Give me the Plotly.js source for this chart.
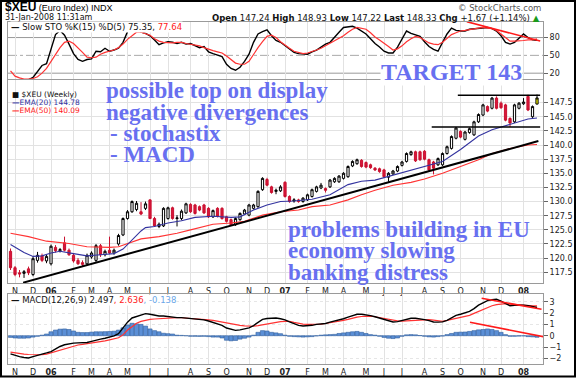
<!DOCTYPE html>
<html><head><meta charset="utf-8">
<script src="https://cdn.plot.ly/plotly-3.0.1.min.js"></script>
<style>html,body{margin:0;padding:0;background:#fff}#chart{width:576px;height:378px}</style>
</head><body><div id="chart"></div>
<script>
// ---------------- DATA (weekly bars, first bar = week of 2005-10-31) ----------------
const firstWeek = '2005-10-31';
const opens  = [121.2,118.3,117.4,117.3,118.1,117.1,119.6,120.4,119.5,119.0,
  121.9,121.3,122.7,121.4,120.5,119.6,119.2,119.0,120.2,119.6,
  122.2,120.6,121.4,120.9,122.5,124.1,127.0,128.2,128.6,128.2,
  128.8,130.3,127.0,125.6,125.7,127.0,128.9,127.0,127.0,128.0,
  129.5,129.4,129.1,129.4,128.8,127.3,128.8,128.8,127.3,126.8,
  125.9,126.8,127.8,127.6,128.8,129.1,132.1,133.9,132.6,131.8,
  131.9,133.4,130.9,130.1,130.3,130.0,130.3,130.9,131.8,132.4,
  132.3,132.6,133.5,133.5,134.1,134.4,136.3,136.7,137.3,136.9,
  136.5,135.9,135.8,135.6,134.3,134.9,135.4,136.4,137.1,138.3,
  138.8,138.8,138.9,137.4,137.0,136.5,136.5,138.5,139.4,141.2,
  142.4,141.0,142.2,141.8,144.1,145.3,146.8,146.5,148.3,147.4,
  147.1,144.7,144.1,146.5,147.3,148.6,145.0,147.24];
const highs  = [121.7,118.6,117.9,117.9,118.5,120.3,121.1,120.8,120.6,122.4,
  122.3,121.8,123.8,121.7,120.8,120.0,119.6,120.8,121.2,122.5,
  122.5,121.5,123.8,121.7,124.3,127.2,128.5,130.2,130.1,129.9,
  130.0,130.4,127.3,126.3,129.0,129.1,129.1,127.6,128.6,129.8,
  129.7,129.6,129.3,129.6,129.0,128.6,129.0,129.0,127.5,127.0,
  127.2,128.1,128.7,129.6,129.6,132.0,134.3,134.2,132.8,132.3,
  132.9,133.6,131.1,130.6,130.5,130.8,131.4,132.3,132.8,133.3,
  132.5,134.0,134.3,134.7,135.2,136.4,137.3,137.6,137.5,137.1,
  136.7,136.1,136.0,135.8,135.2,135.6,136.4,137.2,138.7,139.0,
  139.0,139.0,139.1,137.6,137.2,137.8,138.7,139.9,141.7,143.2,
  142.6,142.5,143.1,144.3,145.6,147.3,147.0,148.5,148.6,147.7,
  147.3,144.9,147.3,147.6,148.3,148.9,147.0,148.93];
const lows   = [117.9,116.8,116.6,116.5,117.0,116.8,119.2,119.3,119.1,118.7,
  121.0,121.0,121.2,120.4,119.2,118.8,118.6,118.8,119.9,119.3,
  120.2,120.3,120.7,120.6,122.2,123.9,126.8,128.0,128.3,127.6,
  128.5,126.9,125.5,125.3,125.5,126.8,126.8,125.6,126.7,127.8,
  128.0,127.7,128.3,127.8,127.1,127.1,127.2,126.8,126.3,125.7,
  125.7,126.6,127.6,127.4,128.6,128.9,131.9,132.7,131.4,131.3,
  131.7,130.7,129.8,129.8,129.8,129.8,130.1,130.7,131.6,132.2,
  131.6,132.4,133.3,133.3,133.9,134.2,136.1,136.5,136.0,135.9,
  135.8,135.4,135.1,134.2,133.5,134.7,135.2,136.2,136.9,138.1,
  137.0,137.2,137.3,135.4,134.8,136.3,136.3,138.3,139.2,141.0,
  141.2,140.8,142.0,141.6,143.9,145.1,145.8,146.3,146.3,146.4,
  144.2,143.2,143.9,146.3,147.1,146.0,144.8,147.22];
const closes = [118.3,117.1,117.2,117.6,117.4,119.9,120.5,119.6,120.3,122.1,
  121.3,121.5,121.4,120.6,119.5,119.0,118.9,120.5,120.9,122.2,
  120.6,121.2,120.9,121.4,124.0,127.0,128.2,130.0,129.7,127.8,
  129.6,127.0,125.7,126.0,128.8,128.9,127.0,127.1,128.3,129.6,
  128.2,127.9,128.5,128.0,127.3,128.4,127.4,127.0,126.5,125.9,
  127.0,127.9,128.5,129.4,129.4,131.8,134.1,132.9,131.6,132.0,
  132.6,130.9,130.0,130.3,130.0,130.6,131.2,132.1,132.6,132.9,
  132.0,133.8,134.1,134.5,135.0,136.2,137.1,137.4,136.2,136.1,
  136.0,135.6,135.3,134.4,135.0,135.4,136.2,137.0,138.5,138.8,
  137.2,137.4,137.5,135.6,135.9,137.6,138.5,139.7,141.5,143.0,
  141.4,142.3,142.9,144.1,145.4,147.1,146.0,148.3,146.5,146.6,
  144.4,143.9,147.1,147.4,147.6,146.2,146.8,148.33];

// moving averages, read at sample weeks
const ema20Weeks = [0,3,5,7,9,11,14,17,20,23,25,27,29,30,32,35,38,41,45,49,51,54,57,60,63,67,71,75,78,81,85,89,92,96,100,104,107,111,115,117];
const ema20 = [122.4,121.0,120.3,120.4,120.9,121.2,120.8,120.4,120.6,120.8,121.6,123.2,124.8,125.4,125.6,126.2,126.6,127.2,127.4,127.2,127.3,128.5,129.4,130.0,130.1,130.4,131.2,133.0,133.6,133.8,134.7,135.6,136.2,137.1,139.2,141.6,142.7,143.7,144.6,144.78];
const ema50Weeks = [0,4,8,13,17,22,24,26,29,33,37,40,45,49,52,56,60,64,67,71,75,78,81,85,89,92,96,100,104,107,111,115,117];
const ema50 = [124.4,123.8,123.0,122.6,122.0,121.9,122.0,122.6,123.4,123.8,124.4,125.0,126.0,126.2,126.5,127.6,128.2,128.5,129.1,129.4,130.3,131.2,132.0,132.9,133.4,134.0,135.0,136.2,137.4,138.5,139.4,140.0,140.09];

// slow stochastics (weekly)
const stochK = [9,7,7,8,9,13,24,33,36,62, 85,92,84,69,53,43,40,43,44,57,
  56,62,57,59,62,72,90,100,94,89, 87,83,76,68,71,73,72,70,72,69,
  70,66,63,65,56,53,51,48,35,28, 25,30,40,52,72,86,90,93,83,75,
  72,66,60,55,53,52,52,56,59,64, 69,72,81,89,97,98,99,96,91,86,
  78,70,64,57,54,54,64,78,91,87, 84,82,73,65,60,57,72,86,96,92,
  91,91,94,95,96,97,97,95,91,83, 72,69,72,79,86,80,76,75.35];
const stochD = [24,15,12,10,10,11,14,20,28,40, 53,63,72,74,70,63,55,47,46,47,
  52,55,57,59,63,69,77,83,89,89, 87,84,78,74,72,71,71,72,72,70,
  69,67,66,63,60,58,56,54,49,43, 37,35,35,40,52,63,73,82,84,80,
  73,67,62,57,55,53,54,56,59,62, 66,70,74,78,83,89,94,97,96,94,
  88,81,76,71,65,59,61,66,73,78, 82,80,75,71,69,68,72,78,85,88,
  91,92,93,94,96,97,96,95,92,86, 79,74,74,74,75,76,76,77.64];

// MACD(12,26,9) (weekly)
const macdLine = [-1.6,-1.75,-1.85,-1.92,-1.97,-1.85,-1.72,-1.6,-1.52,-1.4,
  -1.15,-0.95,-0.8,-0.72,-0.65,-0.63,-0.62,-0.6,-0.5,-0.38,
  -0.3,-0.22,-0.14,-0.02,0.18,0.7,1.2,1.57,1.7,1.85,
  1.95,1.9,1.8,1.74,1.74,1.68,1.6,1.6,1.6,1.57,
  1.53,1.5,1.46,1.4,1.3,1.17,1.05,0.92,0.68,0.55,
  0.47,0.52,0.6,0.7,0.9,1.2,1.45,1.52,1.55,1.57,
  1.5,1.4,1.22,1.05,0.92,0.86,0.88,0.92,1.0,1.04,
  1.08,1.2,1.28,1.38,1.5,1.65,1.8,1.9,1.9,1.86,
  1.78,1.68,1.55,1.42,1.3,1.22,1.25,1.35,1.45,1.55,
  1.55,1.5,1.42,1.33,1.22,1.2,1.22,1.35,1.6,1.8,
  1.9,2.0,2.15,2.4,2.7,2.9,3.1,3.18,3.22,3.05,
  2.85,2.65,2.68,2.7,2.69,2.66,2.6,2.497];
const macdSignal = [-1.45,-1.52,-1.58,-1.63,-1.66,-1.68,-1.69,-1.68,-1.62,-1.5,
  -1.38,-1.26,-1.15,-1.03,-0.9,-0.82,-0.77,-0.72,-0.67,-0.6,
  -0.53,-0.46,-0.37,-0.27,-0.18,0.08,0.5,0.8,1.1,1.27,
  1.38,1.44,1.48,1.51,1.55,1.58,1.6,1.6,1.59,1.57,
  1.55,1.53,1.51,1.46,1.41,1.36,1.28,1.2,1.14,1.06,
  0.98,0.92,0.88,0.85,0.84,0.9,0.98,1.06,1.14,1.21,
  1.25,1.27,1.27,1.18,1.08,1.02,1.01,1.01,1.01,1.03,
  1.08,1.14,1.18,1.26,1.35,1.44,1.55,1.64,1.7,1.73,
  1.74,1.68,1.6,1.53,1.46,1.38,1.32,1.3,1.33,1.36,
  1.4,1.43,1.45,1.43,1.38,1.3,1.27,1.35,1.45,1.52,
  1.6,1.7,1.8,1.98,2.15,2.33,2.5,2.65,2.75,2.82,
  2.84,2.8,2.76,2.73,2.7,2.66,2.64,2.636];
const macdHist = [-0.15,-0.2,-0.22,-0.22,-0.2,-0.12,-0.05,0.05,0.15,0.35,
  0.5,0.58,0.6,0.55,0.42,0.3,0.28,0.28,0.32,0.35,
  0.35,0.36,0.38,0.4,0.5,0.7,0.95,1.1,1.05,1.0,
  0.85,0.6,0.45,0.35,0.22,0.18,0.15,0.05,0.03,0.0,
  -0.05,-0.05,-0.06,-0.05,-0.08,-0.12,-0.12,-0.2,-0.4,-0.45,
  -0.42,-0.3,-0.22,-0.12,0.05,0.3,0.45,0.42,0.3,0.25,
  0.18,0.05,-0.05,-0.08,-0.1,-0.12,-0.1,-0.08,-0.02,0.05,
  0.08,0.1,0.12,0.2,0.25,0.3,0.35,0.38,0.3,0.2,
  0.1,0.05,-0.05,-0.15,-0.22,-0.25,-0.2,-0.05,0.08,0.1,
  0.08,0.02,-0.05,-0.1,-0.12,-0.08,-0.03,0.1,0.2,0.3,
  0.32,0.33,0.38,0.45,0.52,0.55,0.6,0.55,0.45,0.3,
  0.1,-0.05,-0.05,-0.03,-0.02,-0.08,-0.1,-0.138];

// hand-drawn lines (week index, value)
const supportWeeks = [2.8,117.3],  supportVals = [115.66,140.7];
const topWeeks     = [99.4,117.7], topVals     = [148.8,148.8];
const baseWeeks    = [93.6,117.7], baseVals    = [143.2,143.2];
const stochDivWeeks = [101.4,117.7], stochDivVals = [106.7,74.2];
const macdDivAWeeks = [104.7,118.0], macdDivAVals = [3.31,2.34];
const macdDivBWeeks = [102.1,118.4], macdDivBVals = [1.19,-0.09];

// axis labels
const monthTicks = ['2005-11-07','2005-12-05','2006-01-02','2006-02-06','2006-03-06','2006-04-03','2006-05-01','2006-06-05','2006-07-03','2006-08-07','2006-09-04','2006-10-02','2006-11-06','2006-12-04','2007-01-01','2007-02-05','2007-03-05','2007-04-02','2007-05-07','2007-06-04','2007-07-02','2007-08-06','2007-09-03','2007-10-01','2007-11-05','2007-12-03','2008-01-07'];
const monthLabels = ['N','D','<b>06</b>','F','M','A','M','J','J','A','S','O','N','D','<b>07</b>','F','M','A','M','J','J','A','S','O','N','D','<b>08</b>'];
const priceTicks = [117.5,120,122.5,125,127.5,130,132.5,135,137.5,140,142.5,145,147.5];

// ---------------- helpers ----------------
const DAY = 86400000;
const T0 = Date.parse(firstWeek + 'T00:00:00Z');
function wkDate(w){ return new Date(T0 + w*7*DAY).toISOString().replace('T',' ').slice(0,19); }
const dates = closes.map((_, i) => wkDate(i));
const PL=8, PR=543, PT=22, PB=364;
const px = x => (x-PL)/(PR-PL);
const py = y => (PB-y)/(PB-PT);

const nLast = closes.length - 1;
const RED = '#ff3333', BLUE = '#33339f', TXT = '#6870f0';

const traces = [
  // stochastics
  {type:'scatter', mode:'lines', x:dates, y:stochK, xaxis:'x', yaxis:'y', line:{color:'#000', width:1.4}},
  {type:'scatter', mode:'lines', x:dates, y:stochD, xaxis:'x', yaxis:'y', line:{color:RED, width:1.2}},
  {type:'scatter', mode:'lines', x:stochDivWeeks.map(wkDate), y:stochDivVals, xaxis:'x', yaxis:'y', line:{color:'#ff1a1a', width:1.6}},
  // price
  {type:'scatter', mode:'lines', x:ema50Weeks.map(wkDate), y:ema50, xaxis:'x2', yaxis:'y2', line:{color:RED, width:1.1}},
  {type:'scatter', mode:'lines', x:ema20Weeks.map(wkDate), y:ema20, xaxis:'x2', yaxis:'y2', line:{color:BLUE, width:1.1}},
  {type:'candlestick', x:dates.slice(0,nLast), open:opens.slice(0,nLast), high:highs.slice(0,nLast), low:lows.slice(0,nLast), close:closes.slice(0,nLast),
   xaxis:'x2', yaxis:'y2', whiskerwidth:0,
   increasing:{line:{color:'#000', width:1}, fillcolor:'#fff'},
   decreasing:{line:{color:'#c8102e', width:1}, fillcolor:'#d8163c'}},
  {type:'candlestick', x:dates.slice(nLast), open:opens.slice(nLast), high:highs.slice(nLast), low:lows.slice(nLast), close:closes.slice(nLast),
   xaxis:'x2', yaxis:'y2', whiskerwidth:0,
   increasing:{line:{color:'#000', width:1}, fillcolor:'#ffff00'},
   decreasing:{line:{color:'#000', width:1}, fillcolor:'#ffff00'}},
  {type:'scatter', mode:'lines', x:supportWeeks.map(wkDate), y:supportVals, xaxis:'x2', yaxis:'y2', line:{color:'#000', width:2}},
  {type:'scatter', mode:'lines', x:topWeeks.map(wkDate), y:topVals, xaxis:'x2', yaxis:'y2', line:{color:'#000', width:1.6}},
  {type:'scatter', mode:'lines', x:baseWeeks.map(wkDate), y:baseVals, xaxis:'x2', yaxis:'y2', line:{color:'#000', width:1.6}},
  // MACD
  {type:'bar', x:dates, y:macdHist, xaxis:'x3', yaxis:'y3', width:7*DAY*0.92,
   marker:{color:'#5b8fd6', line:{color:'#2f5e9e', width:0.6}}},
  {type:'scatter', mode:'lines', x:dates, y:macdSignal, xaxis:'x3', yaxis:'y3', line:{color:RED, width:1.2}},
  {type:'scatter', mode:'lines', x:dates, y:macdLine, xaxis:'x3', yaxis:'y3', line:{color:'#000', width:1.4}},
  {type:'scatter', mode:'lines', x:macdDivAWeeks.map(wkDate), y:macdDivAVals, xaxis:'x3', yaxis:'y3', line:{color:'#ff1a1a', width:1.6}},
  {type:'scatter', mode:'lines', x:macdDivBWeeks.map(wkDate), y:macdDivBVals, xaxis:'x3', yaxis:'y3', line:{color:'#ff1a1a', width:1.6}}
];

const xCommon = {type:'date', range:[wkDate(-0.56), wkDate(118.33)], tickmode:'array', tickvals:monthTicks, ticktext:monthLabels,
  showgrid:true, gridcolor:'#e2e2e2', gridwidth:1, zeroline:false, showline:true, mirror:true, linecolor:'#9a9a9a', linewidth:1,
  ticks:'', tickfont:{family:'DejaVu Sans', size:8, color:'#222'}, fixedrange:true, matches:'x'};
const yCommon = {side:'right', ticks:'outside', ticklen:4, tickcolor:'#666', showline:true, mirror:true, linecolor:'#9a9a9a', linewidth:1,
  zeroline:false, tickfont:{family:'DejaVu Sans', size:8, color:'#222'}, fixedrange:true};

function ann(text, x, y, font, extra){
  return Object.assign({xref:'paper', yref:'paper', x:px(x), y:py(y), xanchor:'left', yanchor:'middle', showarrow:false, text:text, font:font}, extra||{});
}
const small = {family:'DejaVu Sans', size:8.5, color:'#111'};
const legF = {family:'DejaVu Sans', size:7.5, color:'#111'};
const big = s => ({family:'Liberation Serif', size:s, color:TXT});

const layout = {
  width:576, height:378, margin:{l:PL, r:576-PR, t:PT, b:378-PB},
  paper_bgcolor:'#fff', plot_bgcolor:'#fff', showlegend:false, bargap:0,
  xaxis: Object.assign({}, xCommon, {anchor:'y', showticklabels:false, matches:undefined}),
  xaxis2: Object.assign({}, xCommon, {anchor:'y2', showticklabels:true, rangeslider:{visible:false}}),
  xaxis3: Object.assign({}, xCommon, {anchor:'y3', showticklabels:true}),
  yaxis: Object.assign({}, yCommon, {anchor:'x', domain:[py(79),1], range:[10.2,106.2], tickvals:[20,50,80], showgrid:false}),
  yaxis2: Object.assign({}, yCommon, {anchor:'x2', domain:[py(283),py(80)], range:[115.6,151.5], tickvals:priceTicks, tickformat:'.1f', showgrid:true, gridcolor:'#e2e2e2'}),
  yaxis3: Object.assign({}, yCommon, {anchor:'x3', domain:[0,py(294)], range:[-2.5,3.69], tickvals:[-2,-1,0,1,2,3], showgrid:true, gridcolor:'#e6e6e6', griddash:'dot'}),
  shapes:[
    {type:'line', xref:'paper', yref:'y', x0:0, x1:1, y0:80, y1:80, line:{color:'#999', width:1}, layer:'below'},
    {type:'line', xref:'paper', yref:'y', x0:0, x1:1, y0:50, y1:50, line:{color:'#aaa', width:1, dash:'dashdot'}, layer:'below'},
    {type:'line', xref:'paper', yref:'y', x0:0, x1:1, y0:20, y1:20, line:{color:'#999', width:1}, layer:'below'},
    {type:'rect', xref:'paper', yref:'paper', x0:px(1), x1:px(575), y0:py(376.5), y1:py(1), line:{color:'#000', width:2}, layer:'above'}
  ],
  annotations:[
    ann('<span style="font-size:12px"><b>$XEU</b></span> (Euro Index) INDX', 3, 7, {family:'Liberation Sans', size:9, color:'#000'}),
    ann('31-Jan-2008 11:31am', 3, 17.5, {family:'DejaVu Sans', size:8, color:'#111'}),
    ann('© StockCharts.com', 543, 8, {family:'DejaVu Sans', size:8.5, color:'#555'}, {xanchor:'right'}),
    ann('<b>Open</b> 147.24 <b>High</b> 148.93 <b>Low</b> 147.22 <b>Last</b> 148.33 <b>Chg</b> +1.67 (+1.14%) <span style="color:#1a9a1a">▲</span>', 542, 17.5, small, {xanchor:'right'}),
    ann('<b>—</b> Slow STO %K(15) %D(5) 75.35, <span style="color:#ff2020">77.64</span>', 10, 26.5, small, {bgcolor:'#fff', borderpad:0}),
    ann('<b>■</b> $XEU (Weekly)', 10, 94.5, legF),
    ann('<b>—</b>EMA(20) 144.78', 10, 102.8, Object.assign({}, legF, {color:BLUE})),
    ann('<b>—</b>EMA(50) 140.09', 10, 111, Object.assign({}, legF, {color:'#ff2020'})),
    ann('<b>—</b> MACD(12,26,9) 2.497<span style="color:#ff2020">, 2.636</span><span style="color:#6aa6e8">, -0.138</span>', 10, 300, small, {bgcolor:'#fff', borderpad:0}),
    ann('<b>possible top on display</b>', 104, 90, big(23)),
    ann('<b>negative divergences</b>', 104, 112, big(23)),
    ann('<b>- stochastix</b>', 108, 133, big(23)),
    ann('<b>- MACD</b>', 108, 155, big(23)),
    ann('<b>TARGET 143</b>', 380, 72, big(24), {bgcolor:'#fff', borderpad:0}),
    ann('<b>problems building in EU</b>', 286, 229, big(23)),
    ann('<b>economy slowing</b>', 286, 251, big(23)),
    ann('<b>banking distress</b>', 286, 272, big(23))
  ]
};

Plotly.newPlot('chart', traces, layout, {staticPlot:true, displayModeBar:false});
</script></body></html>
